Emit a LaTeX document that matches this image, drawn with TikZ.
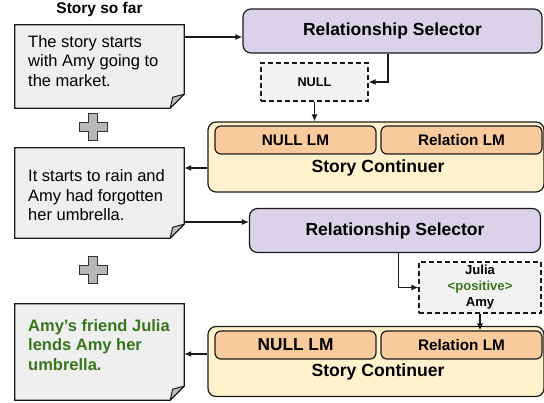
\documentclass[tikz,border=0pt]{standalone}
\usepackage{fontspec}
\setmainfont{Liberation Sans}
\usetikzlibrary{arrows.meta, positioning}

\definecolor{selectorfill}{HTML}{D9D2E9}
\definecolor{continuerfill}{HTML}{FFF2CC}
\definecolor{lmfill}{HTML}{F9CB9C}
\definecolor{storyfill}{HTML}{EFEFEF}
\definecolor{tagfill}{HTML}{F3F3F3}
\definecolor{foldfill}{HTML}{BDBDBD}
\definecolor{plusfill}{HTML}{B7B7B7}
\definecolor{storygreen}{HTML}{38761D}
\definecolor{edgegray}{HTML}{1A1A1A}

\tikzset{
    box/.style={draw=edgegray, line width=1.2pt, rounded corners=8pt, inner sep=0pt},
    selector/.style={box, fill=selectorfill, minimum height=44pt, font=\fontsize{17.5}{20}\bfseries},
    continuer/.style={box, fill=continuerfill, minimum height=70pt},
    lm/.style={box, rounded corners=6pt, fill=lmfill, minimum height=28pt, font=\fontsize{15.3}{18}\bfseries},
    tagbox/.style={draw=edgegray, line width=1.1pt, dash pattern=on 5pt off 3pt, fill=tagfill, inner sep=0pt, align=center},
    storybox/.style={minimum width=169pt, inner sep=0pt},
    storytext/.style={anchor=west, align=left, inner sep=0pt, font=\fontsize{16.5}{19.5}\selectfont},
    arr/.style={-{Latex[length=7pt,width=6pt]}, line width=1.2pt, draw=edgegray},
}

\begin{document}
\begin{tikzpicture}[x=1pt, y=-1pt]
            \useasboundingbox (0,0) rectangle (544,403);

            % story so far
            \node[font=\fontsize{15.5}{18}\bfseries] (head) at (99.5, 9) {Story so far};
            \node[storybox, minimum height=83pt] (s1) at (99.5, 66.5) {};
            \node[storybox, minimum height=90pt] (s2) at (99.5, 193) {};
            \node[storybox, minimum height=96pt] (s3) at (99.5, 352) {};

            % pages with folded corner
            \foreach \n in {s1, s2, s3}
                {
                    \draw[fill=storyfill, draw=edgegray, line width=1.2pt] (\n.north west) -- (\n.north east)
                        -- ([yshift=14pt]\n.south east) -- ([xshift=-14pt]\n.south east) -- (\n.south west) -- cycle;
                    \draw[fill=foldfill, draw=edgegray, line width=1pt, line join=round] ([xshift=-14pt]\n.south east)
                        -- ([yshift=14pt]\n.south east) -- ([xshift=-11.5pt, yshift=11pt]\n.south east) -- cycle;
                }

            \node[storytext] (t1) at (28, 61) {The story starts\\with Amy going to\\the market.};
            \node[storytext] (t2) at (28, 195.5) {It starts to rain and\\Amy had forgotten\\her umbrella.};
            \node[storytext, font=\fontsize{16.5}{19.5}\bfseries, text=storygreen] (t3) at (28, 345) {Amy’s friend Julia\\lends Amy her\\umbrella.};

            % plus signs
            \foreach \y in {127, 270.5}
                {
                    \draw[fill=plusfill, draw=black!80, line width=1pt] (88.5, \y-13.5) -- (97.5, \y-13.5) -- (97.5, \y-4.5)
                        -- (107, \y-4.5) -- (107, \y+4.5) -- (97.5, \y+4.5) -- (97.5, \y+13.5) -- (88.5, \y+13.5)
                        -- (88.5, \y+4.5) -- (79, \y+4.5) -- (79, \y-4.5) -- (88.5, \y-4.5) -- cycle;
                }

            % first step
            \node[selector, minimum width=299pt] (rs1) at (392.5, 31) {Relationship Selector};
            \node[tagbox, minimum width=107pt, minimum height=38pt, font=\fontsize{12.7}{16}\bfseries] (null) at (314.5, 82) {NULL};
            \node[continuer, minimum width=336pt] (sc1) at (376, 157) {};
            \node[lm, minimum width=161pt] (nlm1) at (295.5, 140) {NULL LM};
            \node[lm, minimum width=161pt] (rlm1) at (461.5, 140) {Relation LM};
            \node[font=\fontsize{17.6}{20}\bfseries] (lab1) at (378, 168) {Story Continuer};

            % second step
            \node[selector, minimum width=291pt] (rs2) at (395, 230.5) {Relationship Selector};
            \node[tagbox, minimum width=122pt, minimum height=51pt, font=\fontsize{13.1}{16}\bfseries] (rel) at (480, 287.5)
                {Julia\\\textcolor{storygreen}{<positive>}\\Amy};
            \node[continuer, minimum width=336pt] (sc2) at (376, 361.5) {};
            \node[lm, minimum width=161pt, font=\fontsize{17.3}{20}\bfseries] (nlm2) at (295.5, 345) {NULL LM};
            \node[lm, minimum width=161pt] (rlm2) at (461.5, 345) {Relation LM};
            \node[font=\fontsize{17.6}{20}\bfseries] (lab2) at (378, 372) {Story Continuer};

            % connectors
            \coordinate (in1) at ([yshift=-6pt]rs1.west);
            \draw[arr] (in1 -| s1.east) -- (in1);
            \draw[arr] ([xshift=-4.5pt]rs1.south) |- (null.east);
            \draw[arr] (null.south) -- (null.south |- sc1.north);
            \draw[arr] (lab1 -| sc1.west) -- (lab1 -| s2.east);

            \coordinate (in2) at ([yshift=8.5pt]rs2.west);
            \draw[arr] (in2 -| s2.east) -- (in2);
            \draw[arr] ([xshift=3.5pt]rs2.south) |- (rel.west);
            \draw[arr] (rel.south) -- (rel.south |- rlm2.north);
            \coordinate (out2) at ([yshift=7.5pt]sc2.west);
            \draw[arr] (out2) -- (out2 -| s3.east);

        \end{tikzpicture}
\end{document}
